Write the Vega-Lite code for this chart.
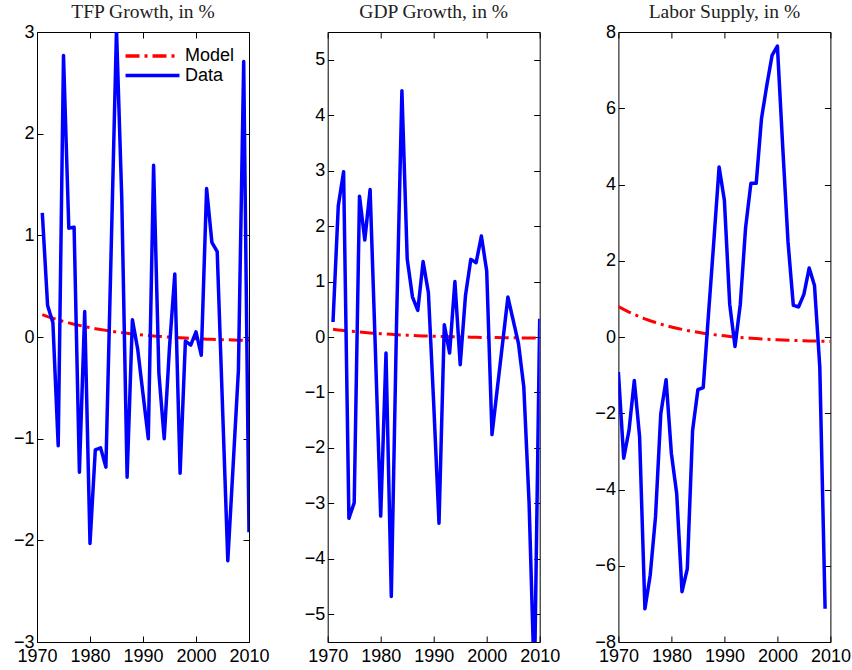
{
  "$schema": "https://vega.github.io/schema/vega-lite/v6.json",
  "background": "white",
  "padding": {"left": 12, "top": 1, "right": 5, "bottom": 5},
  "spacing": 78.7,
  "bounds": "flush",
  "datasets": {
    "tfp": [
      {"year":1971,"series":"Data","value":1.22},{"year":1972,"series":"Data","value":0.31},{"year":1973,"series":"Data","value":0.14},{"year":1974,"series":"Data","value":-1.07},{"year":1975,"series":"Data","value":2.77},{"year":1976,"series":"Data","value":1.07},{"year":1977,"series":"Data","value":1.08},{"year":1978,"series":"Data","value":-1.33},{"year":1979,"series":"Data","value":0.25},{"year":1980,"series":"Data","value":-2.03},{"year":1981,"series":"Data","value":-1.11},{"year":1982,"series":"Data","value":-1.09},{"year":1983,"series":"Data","value":-1.28},{"year":1984,"series":"Data","value":0.87},{"year":1985,"series":"Data","value":3.02},{"year":1986,"series":"Data","value":1.35},{"year":1987,"series":"Data","value":-1.38},{"year":1988,"series":"Data","value":0.17},{"year":1989,"series":"Data","value":-0.12},{"year":1990,"series":"Data","value":-0.56},{"year":1991,"series":"Data","value":-1.0},{"year":1992,"series":"Data","value":1.69},{"year":1993,"series":"Data","value":-0.36},{"year":1994,"series":"Data","value":-1.0},{"year":1995,"series":"Data","value":-0.1},{"year":1996,"series":"Data","value":0.62},{"year":1997,"series":"Data","value":-1.34},{"year":1998,"series":"Data","value":-0.04},{"year":1999,"series":"Data","value":-0.08},{"year":2000,"series":"Data","value":0.05},{"year":2001,"series":"Data","value":-0.18},{"year":2002,"series":"Data","value":1.46},{"year":2003,"series":"Data","value":0.93},{"year":2004,"series":"Data","value":0.84},{"year":2005,"series":"Data","value":-0.68},{"year":2006,"series":"Data","value":-2.2},{"year":2007,"series":"Data","value":-1.27},{"year":2008,"series":"Data","value":-0.33},{"year":2009,"series":"Data","value":2.71},{"year":2010,"series":"Data","value":-1.92},
      {"year":1971,"series":"Model","value":0.220},{"year":1972,"series":"Model","value":0.201},{"year":1973,"series":"Model","value":0.184},{"year":1974,"series":"Model","value":0.168},{"year":1975,"series":"Model","value":0.153},{"year":1976,"series":"Model","value":0.139},{"year":1977,"series":"Model","value":0.126},{"year":1978,"series":"Model","value":0.114},{"year":1979,"series":"Model","value":0.103},{"year":1980,"series":"Model","value":0.092},{"year":1981,"series":"Model","value":0.082},{"year":1982,"series":"Model","value":0.073},{"year":1983,"series":"Model","value":0.065},{"year":1984,"series":"Model","value":0.057},{"year":1985,"series":"Model","value":0.049},{"year":1986,"series":"Model","value":0.043},{"year":1987,"series":"Model","value":0.036},{"year":1988,"series":"Model","value":0.030},{"year":1989,"series":"Model","value":0.025},{"year":1990,"series":"Model","value":0.019},{"year":1991,"series":"Model","value":0.015},{"year":1992,"series":"Model","value":0.010},{"year":1993,"series":"Model","value":0.006},{"year":1994,"series":"Model","value":0.002},{"year":1995,"series":"Model","value":-0.001},{"year":1996,"series":"Model","value":-0.005},{"year":1997,"series":"Model","value":-0.008},{"year":1998,"series":"Model","value":-0.011},{"year":1999,"series":"Model","value":-0.014},{"year":2000,"series":"Model","value":-0.016},{"year":2001,"series":"Model","value":-0.018},{"year":2002,"series":"Model","value":-0.021},{"year":2003,"series":"Model","value":-0.023},{"year":2004,"series":"Model","value":-0.024},{"year":2005,"series":"Model","value":-0.026},{"year":2006,"series":"Model","value":-0.028},{"year":2007,"series":"Model","value":-0.029},{"year":2008,"series":"Model","value":-0.031},{"year":2009,"series":"Model","value":-0.032},{"year":2010,"series":"Model","value":-0.033}
    ],
    "gdp": [
      {"year":1971,"series":"Data","value":0.27},{"year":1972,"series":"Data","value":2.37},{"year":1973,"series":"Data","value":2.98},{"year":1974,"series":"Data","value":-3.27},{"year":1975,"series":"Data","value":-2.99},{"year":1976,"series":"Data","value":2.54},{"year":1977,"series":"Data","value":1.75},{"year":1978,"series":"Data","value":2.66},{"year":1979,"series":"Data","value":-0.25},{"year":1980,"series":"Data","value":-3.23},{"year":1981,"series":"Data","value":-0.29},{"year":1982,"series":"Data","value":-4.68},{"year":1983,"series":"Data","value":0.3},{"year":1984,"series":"Data","value":4.44},{"year":1985,"series":"Data","value":1.41},{"year":1986,"series":"Data","value":0.72},{"year":1987,"series":"Data","value":0.48},{"year":1988,"series":"Data","value":1.36},{"year":1989,"series":"Data","value":0.8},{"year":1990,"series":"Data","value":-1.2},{"year":1991,"series":"Data","value":-3.36},{"year":1992,"series":"Data","value":0.22},{"year":1993,"series":"Data","value":-0.29},{"year":1994,"series":"Data","value":1.0},{"year":1995,"series":"Data","value":-0.5},{"year":1996,"series":"Data","value":0.75},{"year":1997,"series":"Data","value":1.4},{"year":1998,"series":"Data","value":1.34},{"year":1999,"series":"Data","value":1.82},{"year":2000,"series":"Data","value":1.19},{"year":2001,"series":"Data","value":-1.76},{"year":2002,"series":"Data","value":-0.93},{"year":2003,"series":"Data","value":-0.11},{"year":2004,"series":"Data","value":0.72},{"year":2005,"series":"Data","value":0.3},{"year":2006,"series":"Data","value":-0.12},{"year":2007,"series":"Data","value":-0.9},{"year":2008,"series":"Data","value":-3.0},{"year":2009,"series":"Data","value":-6.3},{"year":2010,"series":"Data","value":0.33},
      {"year":1971,"series":"Model","value":0.140},{"year":1972,"series":"Model","value":0.128},{"year":1973,"series":"Model","value":0.117},{"year":1974,"series":"Model","value":0.107},{"year":1975,"series":"Model","value":0.098},{"year":1976,"series":"Model","value":0.089},{"year":1977,"series":"Model","value":0.081},{"year":1978,"series":"Model","value":0.073},{"year":1979,"series":"Model","value":0.066},{"year":1980,"series":"Model","value":0.059},{"year":1981,"series":"Model","value":0.053},{"year":1982,"series":"Model","value":0.048},{"year":1983,"series":"Model","value":0.042},{"year":1984,"series":"Model","value":0.037},{"year":1985,"series":"Model","value":0.033},{"year":1986,"series":"Model","value":0.028},{"year":1987,"series":"Model","value":0.024},{"year":1988,"series":"Model","value":0.020},{"year":1989,"series":"Model","value":0.017},{"year":1990,"series":"Model","value":0.014},{"year":1991,"series":"Model","value":0.011},{"year":1992,"series":"Model","value":0.008},{"year":1993,"series":"Model","value":0.005},{"year":1994,"series":"Model","value":0.003},{"year":1995,"series":"Model","value":0.001},{"year":1996,"series":"Model","value":-0.001},{"year":1997,"series":"Model","value":-0.003},{"year":1998,"series":"Model","value":-0.005},{"year":1999,"series":"Model","value":-0.007},{"year":2000,"series":"Model","value":-0.009},{"year":2001,"series":"Model","value":-0.010},{"year":2002,"series":"Model","value":-0.011},{"year":2003,"series":"Model","value":-0.013},{"year":2004,"series":"Model","value":-0.014},{"year":2005,"series":"Model","value":-0.015},{"year":2006,"series":"Model","value":-0.016},{"year":2007,"series":"Model","value":-0.017},{"year":2008,"series":"Model","value":-0.018},{"year":2009,"series":"Model","value":-0.019},{"year":2010,"series":"Model","value":-0.019}
    ],
    "lab": [
      {"year":1970,"series":"Data","value":-0.92},{"year":1971,"series":"Data","value":-3.18},{"year":1972,"series":"Data","value":-2.45},{"year":1973,"series":"Data","value":-1.14},{"year":1974,"series":"Data","value":-2.62},{"year":1975,"series":"Data","value":-7.13},{"year":1976,"series":"Data","value":-6.25},{"year":1977,"series":"Data","value":-4.72},{"year":1978,"series":"Data","value":-2.01},{"year":1979,"series":"Data","value":-1.12},{"year":1980,"series":"Data","value":-3.06},{"year":1981,"series":"Data","value":-4.11},{"year":1982,"series":"Data","value":-6.68},{"year":1983,"series":"Data","value":-6.08},{"year":1984,"series":"Data","value":-2.45},{"year":1985,"series":"Data","value":-1.38},{"year":1986,"series":"Data","value":-1.33},{"year":1987,"series":"Data","value":0.6},{"year":1988,"series":"Data","value":2.5},{"year":1989,"series":"Data","value":4.46},{"year":1990,"series":"Data","value":3.58},{"year":1991,"series":"Data","value":0.86},{"year":1992,"series":"Data","value":-0.25},{"year":1993,"series":"Data","value":0.86},{"year":1994,"series":"Data","value":2.87},{"year":1995,"series":"Data","value":4.03},{"year":1996,"series":"Data","value":4.03},{"year":1997,"series":"Data","value":5.73},{"year":1998,"series":"Data","value":6.6},{"year":1999,"series":"Data","value":7.39},{"year":2000,"series":"Data","value":7.63},{"year":2001,"series":"Data","value":5.0},{"year":2002,"series":"Data","value":2.5},{"year":2003,"series":"Data","value":0.83},{"year":2004,"series":"Data","value":0.79},{"year":2005,"series":"Data","value":1.12},{"year":2006,"series":"Data","value":1.81},{"year":2007,"series":"Data","value":1.35},{"year":2008,"series":"Data","value":-0.79},{"year":2009,"series":"Data","value":-7.13},
      {"year":1970,"series":"Model","value":0.800},{"year":1971,"series":"Model","value":0.724},{"year":1972,"series":"Model","value":0.654},{"year":1973,"series":"Model","value":0.590},{"year":1974,"series":"Model","value":0.531},{"year":1975,"series":"Model","value":0.476},{"year":1976,"series":"Model","value":0.426},{"year":1977,"series":"Model","value":0.380},{"year":1978,"series":"Model","value":0.337},{"year":1979,"series":"Model","value":0.299},{"year":1980,"series":"Model","value":0.263},{"year":1981,"series":"Model","value":0.230},{"year":1982,"series":"Model","value":0.200},{"year":1983,"series":"Model","value":0.172},{"year":1984,"series":"Model","value":0.146},{"year":1985,"series":"Model","value":0.122},{"year":1986,"series":"Model","value":0.100},{"year":1987,"series":"Model","value":0.081},{"year":1988,"series":"Model","value":0.062},{"year":1989,"series":"Model","value":0.045},{"year":1990,"series":"Model","value":0.030},{"year":1991,"series":"Model","value":0.015},{"year":1992,"series":"Model","value":0.002},{"year":1993,"series":"Model","value":-0.010},{"year":1994,"series":"Model","value":-0.021},{"year":1995,"series":"Model","value":-0.032},{"year":1996,"series":"Model","value":-0.041},{"year":1997,"series":"Model","value":-0.050},{"year":1998,"series":"Model","value":-0.058},{"year":1999,"series":"Model","value":-0.065},{"year":2000,"series":"Model","value":-0.072},{"year":2001,"series":"Model","value":-0.078},{"year":2002,"series":"Model","value":-0.084},{"year":2003,"series":"Model","value":-0.089},{"year":2004,"series":"Model","value":-0.094},{"year":2005,"series":"Model","value":-0.099},{"year":2006,"series":"Model","value":-0.103},{"year":2007,"series":"Model","value":-0.106},{"year":2008,"series":"Model","value":-0.110},{"year":2009,"series":"Model","value":-0.113},{"year":2010,"series":"Model","value":-0.116}
    ]
  },
  "hconcat": [
    {
      "width": 212, "height": 610,
      "title": {"text": "TFP Growth, in %", "anchor": "middle", "frame": "group", "offset": 1},
      "data": {"name": "tfp"},
      "layer": [
        {
          "transform": [{"filter": "datum.series === 'Model'"}],
          "mark": {"type": "line", "strokeWidth": 3, "clip": true, "strokeJoin": "round"},
          "encoding": {
            "x": {"field": "year", "type": "quantitative", "scale": {"domain": [1970, 2010], "nice": false, "zero": false}, "axis": {"values": [1970, 1980, 1990, 2000, 2010], "format": "d", "title": null}},
            "y": {"field": "value", "type": "quantitative", "scale": {"domain": [-3, 3], "nice": false}, "axis": {"values": [-3, -2, -1, 0, 1, 2, 3], "title": null}},
            "color": {"field": "series", "type": "nominal", "scale": {"domain": ["Model", "Data"], "range": ["#ff0000", "#0000ff"]}, "legend": {"title": null, "orient": "none", "legendX": 106.5, "legendY": 15}},
            "strokeDash": {"field": "series", "type": "nominal", "scale": {"domain": ["Model", "Data"], "range": [[14, 5, 3, 5], [1, 0]]}, "legend": {"title": null, "orient": "none", "legendX": 106.5, "legendY": 15}}
          }
        },
        {
          "transform": [{"filter": "datum.series === 'Data'"}],
          "mark": {"type": "line", "strokeWidth": 3.5, "clip": true, "strokeJoin": "round"},
          "encoding": {
            "x": {"field": "year", "type": "quantitative", "scale": {"domain": [1970, 2010], "nice": false, "zero": false}, "axis": null},
            "y": {"field": "value", "type": "quantitative", "scale": {"domain": [-3, 3], "nice": false}, "axis": null},
            "color": {"field": "series", "type": "nominal", "scale": {"domain": ["Model", "Data"], "range": ["#ff0000", "#0000ff"]}, "legend": {"title": null, "orient": "none", "legendX": 106.5, "legendY": 15}},
            "strokeDash": {"field": "series", "type": "nominal", "scale": {"domain": ["Model", "Data"], "range": [[14, 5, 3, 5], [1, 0]]}, "legend": {"title": null, "orient": "none", "legendX": 106.5, "legendY": 15}}
          }
        },
        {
          "mark": {"type": "line", "opacity": 0},
          "encoding": {
            "x": {"field": "year", "type": "quantitative", "scale": {"domain": [1970, 2010], "nice": false, "zero": false}, "axis": {"orient": "top", "values": [1970, 1980, 1990, 2000, 2010], "labels": false, "title": null}},
            "y": {"field": "value", "type": "quantitative", "scale": {"domain": [-3, 3], "nice": false}, "axis": {"orient": "right", "values": [-3, -2, -1, 0, 1, 2, 3], "labels": false, "title": null}}
          }
        }
      ],
      "resolve": {"axis": {"x": "independent", "y": "independent"}}
    },
    {
      "width": 212, "height": 610,
      "title": {"text": "GDP Growth, in %", "anchor": "middle", "frame": "group", "offset": 9},
      "data": {"name": "gdp"},
      "layer": [
        {
          "transform": [{"filter": "datum.series === 'Model'"}],
          "mark": {"type": "line", "strokeWidth": 3, "clip": true, "strokeJoin": "round"},
          "encoding": {
            "x": {"field": "year", "type": "quantitative", "scale": {"domain": [1970, 2010], "nice": false, "zero": false}, "axis": {"values": [1970, 1980, 1990, 2000, 2010], "format": "d", "title": null}},
            "y": {"field": "value", "type": "quantitative", "scale": {"domain": [-5.5, 5.5], "nice": false}, "axis": {"values": [-5, -4, -3, -2, -1, 0, 1, 2, 3, 4, 5], "title": null}},
            "color": {"field": "series", "type": "nominal", "scale": {"domain": ["Model", "Data"], "range": ["#ff0000", "#0000ff"]}, "legend": null},
            "strokeDash": {"field": "series", "type": "nominal", "scale": {"domain": ["Model", "Data"], "range": [[14, 5, 3, 5], [1, 0]]}, "legend": null}
          }
        },
        {
          "transform": [{"filter": "datum.series === 'Data'"}],
          "mark": {"type": "line", "strokeWidth": 3.5, "clip": true, "strokeJoin": "round"},
          "encoding": {
            "x": {"field": "year", "type": "quantitative", "scale": {"domain": [1970, 2010], "nice": false, "zero": false}, "axis": null},
            "y": {"field": "value", "type": "quantitative", "scale": {"domain": [-5.5, 5.5], "nice": false}, "axis": null},
            "color": {"field": "series", "type": "nominal", "scale": {"domain": ["Model", "Data"], "range": ["#ff0000", "#0000ff"]}, "legend": null},
            "strokeDash": {"field": "series", "type": "nominal", "scale": {"domain": ["Model", "Data"], "range": [[14, 5, 3, 5], [1, 0]]}, "legend": null}
          }
        },
        {
          "mark": {"type": "line", "opacity": 0},
          "encoding": {
            "x": {"field": "year", "type": "quantitative", "scale": {"domain": [1970, 2010], "nice": false, "zero": false}, "axis": {"orient": "top", "values": [1970, 1980, 1990, 2000, 2010], "labels": false, "title": null}},
            "y": {"field": "value", "type": "quantitative", "scale": {"domain": [-5.5, 5.5], "nice": false}, "axis": {"orient": "right", "values": [-5, -4, -3, -2, -1, 0, 1, 2, 3, 4, 5], "labels": false, "title": null}}
          }
        }
      ],
      "resolve": {"axis": {"x": "independent", "y": "independent"}}
    },
    {
      "width": 212, "height": 610,
      "title": {"text": "Labor Supply, in %", "anchor": "middle", "frame": "group", "offset": 1},
      "data": {"name": "lab"},
      "layer": [
        {
          "transform": [{"filter": "datum.series === 'Model'"}],
          "mark": {"type": "line", "strokeWidth": 3, "clip": true, "strokeJoin": "round"},
          "encoding": {
            "x": {"field": "year", "type": "quantitative", "scale": {"domain": [1970, 2010], "nice": false, "zero": false}, "axis": {"values": [1970, 1980, 1990, 2000, 2010], "format": "d", "title": null}},
            "y": {"field": "value", "type": "quantitative", "scale": {"domain": [-8, 8], "nice": false}, "axis": {"values": [-8, -6, -4, -2, 0, 2, 4, 6, 8], "title": null}},
            "color": {"field": "series", "type": "nominal", "scale": {"domain": ["Model", "Data"], "range": ["#ff0000", "#0000ff"]}, "legend": null},
            "strokeDash": {"field": "series", "type": "nominal", "scale": {"domain": ["Model", "Data"], "range": [[14, 5, 3, 5], [1, 0]]}, "legend": null}
          }
        },
        {
          "transform": [{"filter": "datum.series === 'Data'"}],
          "mark": {"type": "line", "strokeWidth": 3.5, "clip": true, "strokeJoin": "round"},
          "encoding": {
            "x": {"field": "year", "type": "quantitative", "scale": {"domain": [1970, 2010], "nice": false, "zero": false}, "axis": null},
            "y": {"field": "value", "type": "quantitative", "scale": {"domain": [-8, 8], "nice": false}, "axis": null},
            "color": {"field": "series", "type": "nominal", "scale": {"domain": ["Model", "Data"], "range": ["#ff0000", "#0000ff"]}, "legend": null},
            "strokeDash": {"field": "series", "type": "nominal", "scale": {"domain": ["Model", "Data"], "range": [[14, 5, 3, 5], [1, 0]]}, "legend": null}
          }
        },
        {
          "mark": {"type": "line", "opacity": 0},
          "encoding": {
            "x": {"field": "year", "type": "quantitative", "scale": {"domain": [1970, 2010], "nice": false, "zero": false}, "axis": {"orient": "top", "values": [1970, 1980, 1990, 2000, 2010], "labels": false, "title": null}},
            "y": {"field": "value", "type": "quantitative", "scale": {"domain": [-8, 8], "nice": false}, "axis": {"orient": "right", "values": [-8, -6, -4, -2, 0, 2, 4, 6, 8], "labels": false, "title": null}}
          }
        }
      ],
      "resolve": {"axis": {"x": "independent", "y": "independent"}}
    }
  ],
  "resolve": {
    "scale": {"color": "independent", "strokeDash": "independent"},
    "legend": {"color": "independent", "strokeDash": "independent"}
  },
  "config": {
    "view": {"stroke": "#000000", "strokeWidth": 1},
    "axis": {
      "grid": false,
      "domain": false,
      "ticks": true,
      "tickSize": -6,
      "tickColor": "#000000",
      "tickWidth": 1,
      "labelFont": "Liberation Sans",
      "labelFontSize": 18,
      "labelColor": "#000000",
      "labelFlush": false,
      "labelOverlap": false
    },
    "axisY": {"labelPadding": 9},
    "axisX": {"labelPadding": 11},
    "title": {"font": "Liberation Serif", "fontSize": 19.5, "fontWeight": "normal", "color": "#222222"},
    "legend": {
      "labelFont": "Liberation Sans",
      "labelFontSize": 18,
      "labelColor": "#000000",
      "symbolType": "M-4,0H4",
      "symbolSize": 182,
      "symbolStrokeWidth": 3.5,
      "labelOffset": 23.5,
      "rowPadding": 1.5,
      "padding": 0
    }
  }
}
